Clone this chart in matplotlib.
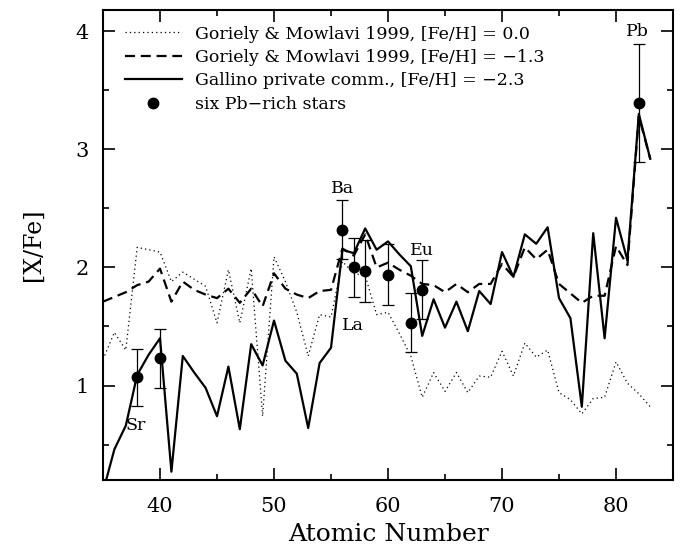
import numpy as np
import matplotlib
matplotlib.use("Agg")
import matplotlib.pyplot as plt
from matplotlib.ticker import MultipleLocator

plt.rcParams['font.family'] = ['DejaVu Serif']
plt.rcParams['mathtext.default'] = 'regular'

# atomic numbers for the model curves
z_model = np.arange(35, 84)

# Goriely & Mowlavi 1999, [Fe/H] = 0.0
gm_00 = [1.22, 1.45, 1.30, 2.17, 2.15, 2.13, 1.88, 1.96, 1.90, 1.84,
         1.53, 1.98, 1.53, 1.99, 0.74, 2.09, 1.88, 1.62, 1.25, 1.60,
         1.58, 2.05, 1.95, 1.93, 1.60, 1.62, 1.44, 1.25, 0.90, 1.11,
         0.95, 1.11, 0.94, 1.08, 1.07, 1.29, 1.08, 1.36, 1.24, 1.30,
         0.94, 0.88, 0.76, 0.89, 0.90, 1.20, 1.02, 0.93, 0.82]

# Goriely & Mowlavi 1999, [Fe/H] = -1.3
gm_13 = [1.71, 1.75, 1.79, 1.85, 1.88, 1.99, 1.71, 1.88, 1.81, 1.77,
         1.74, 1.82, 1.70, 1.82, 1.67, 1.95, 1.82, 1.77, 1.74, 1.80,
         1.81, 2.16, 2.10, 2.28, 2.00, 2.04, 1.98, 1.93, 1.86, 1.85,
         1.79, 1.86, 1.79, 1.86, 1.86, 2.03, 1.92, 2.17, 2.07, 2.15,
         1.86, 1.78, 1.70, 1.76, 1.76, 2.18, 2.02, 3.28, 2.92]

# Gallino private comm., [Fe/H] = -2.3
gallino = [0.10, 0.46, 0.66, 1.09, 1.26, 1.40, 0.27, 1.25, 1.11, 0.98,
           0.74, 1.16, 0.63, 1.35, 1.17, 1.55, 1.21, 1.10, 0.64, 1.19,
           1.32, 2.15, 2.12, 2.33, 2.15, 2.22, 2.11, 2.01, 1.42, 1.73,
           1.49, 1.71, 1.46, 1.80, 1.69, 2.13, 1.92, 2.28, 2.20, 2.34,
           1.74, 1.57, 0.82, 2.29, 1.40, 2.42, 2.06, 3.30, 2.92]

# mean abundances of the six Pb-rich stars
z_star = [38, 40, 56, 57, 58, 60, 62, 63, 82]
xfe_star = [1.07, 1.23, 2.32, 2.00, 1.97, 1.94, 1.53, 1.81, 3.39]
err_star = [0.24, 0.25, 0.25, 0.25, 0.26, 0.26, 0.25, 0.25, 0.50]

# element names written next to some points
el_names = ["Sr", "Ba", "La", "Eu", "Pb"]
el_z = [37.9, 56.0, 56.9, 63.0, 81.9]
el_y = [0.66, 2.67, 1.51, 2.14, 4.00]

fig = plt.figure(figsize=(6.83, 5.54), dpi=100)
ax = fig.add_axes([0.1508, 0.1336, 0.8346, 0.8484])

ax.plot(z_model, gm_00, color="black", lw=0.9, dashes=(1, 2.5),
        label="Goriely & Mowlavi 1999, [Fe/H] = 0.0")
ax.plot(z_model, gm_13, color="black", lw=1.6, dashes=(4.5, 2.6),
        label="Goriely & Mowlavi 1999, [Fe/H] = \u22121.3")
ax.plot(z_model, gallino, color="black", lw=1.6,
        label="Gallino private comm., [Fe/H] = \u22122.3")
ax.errorbar(z_star, xfe_star, yerr=err_star, fmt="none", ecolor="black",
            elinewidth=0.9, capsize=4.5, capthick=0.9)
ax.plot(z_star, xfe_star, "o", color="black", ms=7.5,
        label="six Pb\u2212rich stars")

for nm, zz, yy in zip(el_names, el_z, el_y):
    ax.text(zz, yy, nm, fontsize=12.5, ha="center", va="center")

ax.set_xlim(35, 85)
ax.set_ylim(0.2, 4.18)
ax.xaxis.set_major_locator(MultipleLocator(10))
ax.xaxis.set_minor_locator(MultipleLocator(5))
ax.yaxis.set_major_locator(MultipleLocator(1))
ax.yaxis.set_minor_locator(MultipleLocator(0.5))
ax.tick_params(which="both", direction="in", top=True, right=True, width=1.2)
ax.tick_params(which="major", length=8.5, labelsize=15)
ax.tick_params(axis="x", which="major", pad=12)
ax.tick_params(axis="y", which="major", pad=10)
ax.tick_params(which="minor", length=4)
for s in ax.spines.values():
    s.set_linewidth(1.5)

ax.set_xlabel("Atomic Number", fontsize=18, labelpad=5)
ax.set_ylabel("[X/Fe]", fontsize=17, labelpad=22)

leg = ax.legend(loc="upper left", bbox_to_anchor=(0.02, 0.989), frameon=False,
                fontsize=12.5, handlelength=3.3, handletextpad=0.75,
                labelspacing=0.37, borderaxespad=0.2)

fig.savefig("out.png", dpi=100)
